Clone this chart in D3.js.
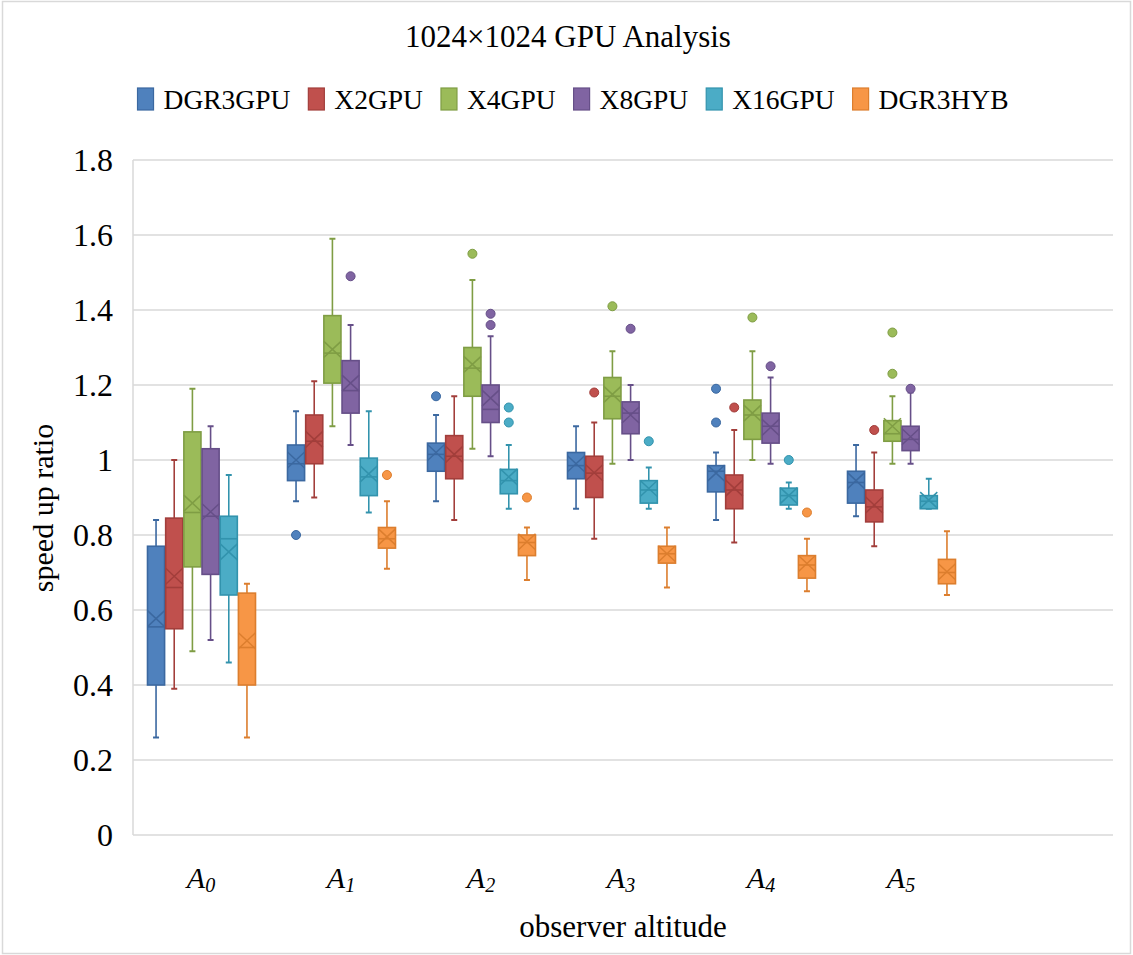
<!DOCTYPE html>
<html>
<head>
<meta charset="utf-8">
<script src="https://cdn.jsdelivr.net/npm/d3@7/dist/d3.min.js"></script>
<style>
  html, body { margin: 0; padding: 0; background: #fff; }
  svg { display: block; }
  text { font-family: "Liberation Serif", "Times New Roman", serif; fill: #000; }
</style>
</head>
<body>
<svg id="chart" width="1133" height="955"></svg>
<script>
// Observer altitude categories (the last slot is an empty band on the axis)
const categories = ["A0", "A1", "A2", "A3", "A4", "A5", ""];
const seriesNames = ["DGR3GPU", "X2GPU", "X4GPU", "X8GPU", "X16GPU", "DGR3HYB"];
const yTicks = [0, 0.2, 0.4, 0.6, 0.8, 1, 1.2, 1.4, 1.6, 1.8];

// Per category: [whisker low, Q1, median, Q3, whisker high, mean]
const dgr3gpu = [
  [0.26, 0.40, 0.555, 0.77, 0.84, 0.577],
  [0.89, 0.945, 0.99, 1.04, 1.13, 1.00],
  [0.89, 0.97, 1.015, 1.045, 1.12, 1.02],
  [0.87, 0.95, 0.985, 1.02, 1.09, 0.99],
  [0.84, 0.915, 0.97, 0.985, 1.02, 0.965],
  [0.85, 0.885, 0.94, 0.97, 1.04, 0.945]
];
const x2gpu = [
  [0.39, 0.55, 0.66, 0.845, 1.00, 0.69],
  [0.90, 0.99, 1.05, 1.12, 1.21, 1.055],
  [0.84, 0.95, 1.01, 1.065, 1.17, 1.015],
  [0.79, 0.90, 0.965, 1.01, 1.10, 0.966],
  [0.78, 0.87, 0.92, 0.96, 1.08, 0.925],
  [0.77, 0.835, 0.875, 0.92, 1.02, 0.88]
];
const x4gpu = [
  [0.49, 0.715, 0.86, 1.075, 1.19, 0.885],
  [1.09, 1.205, 1.285, 1.385, 1.59, 1.295],
  [1.03, 1.17, 1.245, 1.30, 1.48, 1.255],
  [0.99, 1.11, 1.17, 1.22, 1.29, 1.175],
  [1.00, 1.055, 1.12, 1.16, 1.29, 1.125],
  [0.99, 1.05, 1.07, 1.105, 1.17, 1.09]
];
const x8gpu = [
  [0.52, 0.695, 0.85, 1.03, 1.09, 0.862],
  [1.04, 1.125, 1.185, 1.265, 1.36, 1.205],
  [1.01, 1.10, 1.135, 1.20, 1.33, 1.165],
  [1.00, 1.07, 1.125, 1.155, 1.20, 1.12],
  [0.99, 1.045, 1.09, 1.125, 1.22, 1.087],
  [0.99, 1.025, 1.055, 1.09, 1.18, 1.062]
];
const x16gpu = [
  [0.46, 0.64, 0.79, 0.85, 0.96, 0.755],
  [0.86, 0.905, 0.955, 1.005, 1.13, 0.963],
  [0.87, 0.91, 0.945, 0.975, 1.04, 0.955],
  [0.87, 0.885, 0.92, 0.945, 0.98, 0.924],
  [0.87, 0.88, 0.905, 0.925, 0.94, 0.905],
  [0.87, 0.87, 0.89, 0.905, 0.95, 0.893]
];
const dgr3hyb = [
  [0.26, 0.40, 0.50, 0.645, 0.67, 0.518],
  [0.71, 0.765, 0.79, 0.82, 0.89, 0.795],
  [0.68, 0.745, 0.78, 0.80, 0.82, 0.782],
  [0.66, 0.725, 0.75, 0.77, 0.82, 0.75],
  [0.65, 0.685, 0.72, 0.745, 0.79, 0.724],
  [0.64, 0.67, 0.70, 0.735, 0.81, 0.702]
];

// Outlier points per category
const dgr3gpuOut = [[], [0.80], [1.17], [], [1.10, 1.19], []];
const x2gpuOut   = [[], [], [], [1.18], [1.14], [1.08]];
const x4gpuOut   = [[], [], [1.55], [1.41], [1.38], [1.23, 1.34]];
const x8gpuOut   = [[], [1.49], [1.36, 1.39], [1.35], [1.25], [1.19]];
const x16gpuOut  = [[], [], [1.10, 1.14], [1.05], [1.00], []];
const dgr3hybOut = [[], [0.96], [0.90], [], [0.86], []];

const seriesStats = [dgr3gpu, x2gpu, x4gpu, x8gpu, x16gpu, dgr3hyb];
const seriesOutliers = [dgr3gpuOut, x2gpuOut, x4gpuOut, x8gpuOut, x16gpuOut, dgr3hybOut];

const fillColors = ["#4F81BD", "#C0504D", "#9BBB59", "#8064A2", "#4BACC6", "#F79646"];
const lineColors = ["#3B68A0", "#A23E3B", "#7F9D44", "#664F88", "#3293AD", "#DC7E2E"];

const svg = d3.select("#chart");
const W = 1133, H = 955;
const plot = { left: 133, right: 1113, top: 160, bottom: 835 };

// outer frame
svg.append("rect")
  .attr("x", 2.5).attr("y", 1.5).attr("width", W - 5).attr("height", H - 3)
  .attr("fill", "#fff").attr("stroke", "#d9d9d9").attr("stroke-width", 1.5);

const x = d3.scaleBand().domain(categories).range([plot.left, plot.right]).paddingInner(0).paddingOuter(0);
const y = d3.scaleLinear().domain([0, 1.8]).range([plot.bottom, plot.top]);
const groupWidth = 108;
const xs = d3.scaleBand().domain(seriesNames).range([-groupWidth / 2, groupWidth / 2]).paddingInner(0.06).paddingOuter(0);
const bw = xs.bandwidth();

// gridlines
svg.append("g")
  .selectAll("line").data(yTicks.filter(d => d > 0)).join("line")
  .attr("x1", plot.left).attr("x2", plot.right)
  .attr("y1", d => y(d)).attr("y2", d => y(d))
  .attr("stroke", "#d9d9d9").attr("stroke-width", 1.5);

// axis lines
svg.append("line").attr("x1", plot.left).attr("x2", plot.left)
  .attr("y1", plot.top).attr("y2", plot.bottom)
  .attr("stroke", "#d9d9d9").attr("stroke-width", 1.5);
svg.append("line").attr("x1", plot.left).attr("x2", plot.right)
  .attr("y1", plot.bottom).attr("y2", plot.bottom)
  .attr("stroke", "#d9d9d9").attr("stroke-width", 1.5);

// y axis tick labels
const yAxis = d3.axisLeft(y).tickValues(yTicks).tickSize(0).tickPadding(20)
  .tickFormat(d => d3.format("")(+d.toFixed(1)));
const gy = svg.append("g").attr("transform", `translate(${plot.left},0)`).call(yAxis);
gy.select(".domain").remove();
gy.attr("font-family", null);
gy.selectAll("text").attr("font-size", 32).attr("dy", "0.34em");

// x axis tick labels (italic A with subscript index)
const gx = svg.append("g").attr("transform", `translate(0,${plot.bottom})`);
categories.forEach(c => {
  if (!c) return;
  const t = gx.append("text")
    .attr("x", x(c) + x.bandwidth() / 2 - 2)
    .attr("y", 53)
    .attr("text-anchor", "middle")
    .attr("font-style", "italic")
    .attr("font-size", 30);
  t.append("tspan").text(c.charAt(0));
  t.append("tspan").attr("font-size", 20).attr("dy", 4).text(c.slice(1));
});

// boxes
seriesNames.forEach((name, si) => {
  const g = svg.append("g").attr("class", "series-" + name);
  const stats = seriesStats[si];
  const stroke = lineColors[si];
  const fill = fillColors[si];
  stats.forEach((s, ci) => {
    const [lo, q1, med, q3, hi, mean] = s;
    const cx = x(categories[ci]) + x.bandwidth() / 2 + xs(name) + bw / 2 - 1.5;
    const capW = 3;
    // whiskers
    g.append("line").attr("x1", cx).attr("x2", cx).attr("y1", y(hi)).attr("y2", y(q3))
      .attr("stroke", stroke).attr("stroke-width", 1.6);
    g.append("line").attr("x1", cx).attr("x2", cx).attr("y1", y(q1)).attr("y2", y(lo))
      .attr("stroke", stroke).attr("stroke-width", 1.6);
    g.append("line").attr("x1", cx - capW).attr("x2", cx + capW).attr("y1", y(hi)).attr("y2", y(hi))
      .attr("stroke", stroke).attr("stroke-width", 2);
    g.append("line").attr("x1", cx - capW).attr("x2", cx + capW).attr("y1", y(lo)).attr("y2", y(lo))
      .attr("stroke", stroke).attr("stroke-width", 2);
    // box
    g.append("rect").attr("x", cx - bw / 2).attr("width", bw)
      .attr("y", y(q3)).attr("height", Math.max(0.5, y(q1) - y(q3)))
      .attr("fill", fill).attr("stroke", stroke).attr("stroke-width", 1.6);
    // median
    g.append("line").attr("x1", cx - bw / 2).attr("x2", cx + bw / 2)
      .attr("y1", y(med)).attr("y2", y(med))
      .attr("stroke", stroke).attr("stroke-width", 1.6);
    // mean marker
    const hw = bw / 2, hh = 8;
    g.append("path")
      .attr("d", `M${cx - hw},${y(mean) - hh}L${cx + hw},${y(mean) + hh}M${cx - hw},${y(mean) + hh}L${cx + hw},${y(mean) - hh}`)
      .attr("stroke", stroke).attr("stroke-width", 1.5).attr("fill", "none");
    // outliers
    seriesOutliers[si][ci].forEach(v => {
      g.append("circle").attr("cx", cx).attr("cy", y(v)).attr("r", 4.5)
        .attr("fill", fill).attr("stroke", stroke).attr("stroke-width", 1);
    });
  });
});

// title
svg.append("text").attr("x", 568).attr("y", 47).attr("text-anchor", "middle")
  .attr("font-size", 31).text("1024\u00d71024 GPU Analysis");

// axis titles
svg.append("text").attr("x", (plot.left + plot.right) / 2).attr("y", 937).attr("text-anchor", "middle")
  .attr("font-size", 31).text("observer altitude");
svg.append("text").attr("transform", `translate(53,508) rotate(-90)`)
  .attr("text-anchor", "middle").attr("font-size", 30).text("speed up ratio");

// legend
const legend = svg.append("g");
const swW = 16, swH = 22, gapText = 10, gapItem = 18;
const items = seriesNames.map((name, i) => {
  const g = legend.append("g");
  g.append("rect").attr("width", swW).attr("height", swH).attr("y", -swH / 2)
    .attr("fill", fillColors[i]).attr("stroke", lineColors[i]).attr("stroke-width", 1.2);
  const t = g.append("text").attr("x", swW + gapText).attr("y", 10).attr("font-size", 27.5).text(name);
  return { g, w: swW + gapText + t.node().getComputedTextLength() };
});
const total = d3.sum(items, d => d.w) + gapItem * (items.length - 1);
let lx = 573 - total / 2;
items.forEach(it => {
  it.g.attr("transform", `translate(${lx},99)`);
  lx += it.w + gapItem;
});
</script>
</body>
</html>
